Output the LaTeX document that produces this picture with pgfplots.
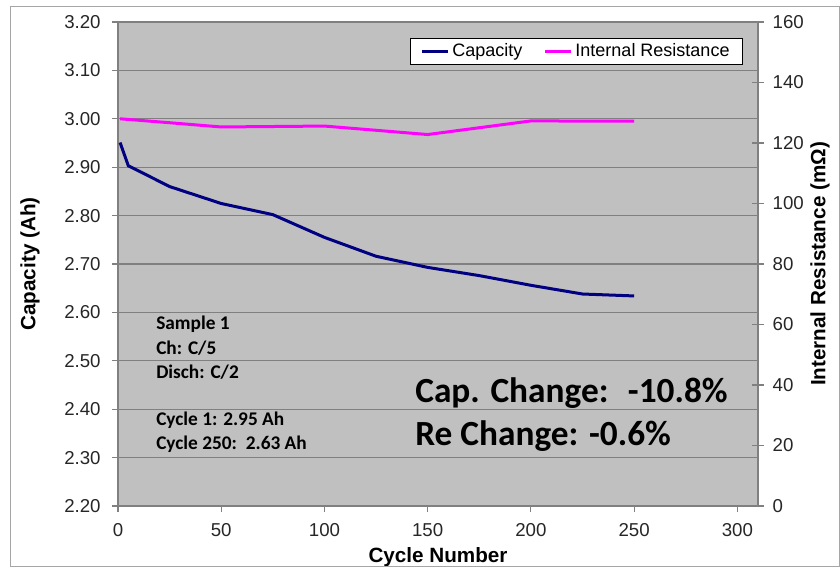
\documentclass[border=0pt]{standalone}
\usepackage{fontspec}
\setmainfont{Liberation Sans}
\newfontfamily\calibri{Carlito}
\usepackage{pgfplots}
\pgfplotsset{compat=1.18}

\definecolor{plotbg}{HTML}{C0C0C0}
\definecolor{gridgray}{HTML}{808080}
\definecolor{capblue}{HTML}{000080}
\definecolor{irpink}{HTML}{FF00FF}

\pgfplotsset{
  chartbase/.style={
    width=480pt, height=363pt, scale only axis,
    xmin=0, xmax=310,
    xtick={0,50,100,150,200,250,300},
    axis line style={gridgray, line width=0.8pt},
    tick style={gridgray, line width=0.8pt},
    ticklabel style={font=\fontsize{14}{16}\selectfont, text=black!85},
    /pgf/number format/assume math mode=true,
    label style={font=\bfseries\fontsize{15.5}{18}\selectfont},
  },
}

\begin{document}
\begin{tikzpicture}
\path[use as bounding box] (-88.5pt,-49.5pt) rectangle (541.5pt,379.5pt);

% capacity (left axis)
\begin{axis}[chartbase,
  axis background/.style={fill=plotbg},
  ymin=2.2, ymax=3.2,
  ytick={2.2,2.3,2.4,2.5,2.6,2.7,2.8,2.9,3.0,3.1,3.2},
  yticklabel style={/pgf/number format/fixed, /pgf/number format/fixed zerofill,
    /pgf/number format/precision=2, xshift=-5pt},
  xticklabel style={yshift=-5pt},
  ymajorgrids, grid style={gridgray, line width=1pt},
  tick align=outside, major tick length=4.5pt,
  xtick pos=bottom, ytick pos=left,
  xlabel={Cycle Number}, ylabel={Capacity (Ah)},
  xlabel style={at={(axis description cs:0.5,-0.105)}, anchor=center},
  ylabel style={at={(axis description cs:-0.1375,0.5)}, anchor=center},
]
\addplot[capblue, line width=2.25pt] coordinates {
  (1,2.951) (5,2.903) (25,2.860) (50,2.825) (75,2.802) (100,2.755)
  (125,2.716) (150,2.693) (175,2.676) (200,2.656) (225,2.638) (250,2.634)
};
\begin{scope}[every node/.style={anchor=west, inner sep=0pt,
    font=\calibri\bfseries\fontsize{14.5}{17}\selectfont}]
\node at (axis cs:18.4,2.576) {Sample 1};
\node at (axis cs:18.4,2.526) {Ch: C/5};
\node at (axis cs:18.4,2.477) {Disch: C/2};
\node at (axis cs:18.4,2.378) {Cycle 1: 2.95 Ah};
\node at (axis cs:18.4,2.328) {Cycle 250:\ \ 2.63 Ah};
\end{scope}
\node[anchor=west, inner sep=0pt, font=\calibri\bfseries\fontsize{26.5}{30}\selectfont]
  at (axis cs:143.9,2.433) {Cap. Change:\hspace{0.55em}-10.8\%};
\node[anchor=west, inner sep=0pt, font=\calibri\bfseries\fontsize{26.5}{30}\selectfont]
  at (axis cs:143.9,2.345) {Re Change: -0.6\%};
\end{axis}

% internal resistance (right axis)
\begin{axis}[chartbase,
  ymin=0, ymax=160,
  ytick={0,20,40,60,80,100,120,140,160},
  axis x line=none, axis y line*=right,
  tick align=center, major tick length=9pt,
  yticklabel style={xshift=3pt},
  ylabel={Internal Resistance (mΩ)},
  ylabel style={at={(axis description cs:1.097,0.5)}, anchor=center},
  legend style={at={(rel axis cs:0.977,0.967)}, anchor=north east,
    draw=black, line width=0.6pt, fill=white,
    font=\fontsize{13.5}{15}\selectfont, inner xsep=8pt, inner ysep=2pt,
    /tikz/every even column/.append style={column sep=14pt}},
  legend columns=2,
  legend image code/.code={\draw[#1] (0pt,0pt) -- (19.5pt,0pt);},
]
\addlegendimage{capblue, line width=2.25pt}
\addlegendentry{Capacity}
\addplot[irpink, line width=2.25pt] coordinates {
  (1,128.0) (25,126.7) (50,125.3) (100,125.6) (150,122.8) (200,127.3) (250,127.2)
};
\addlegendentry{Internal Resistance}
\end{axis}

\draw[gridgray!70, line width=0.75pt] (-80.25pt,-45pt) rectangle (540.75pt,374.25pt);
\end{tikzpicture}
\end{document}
